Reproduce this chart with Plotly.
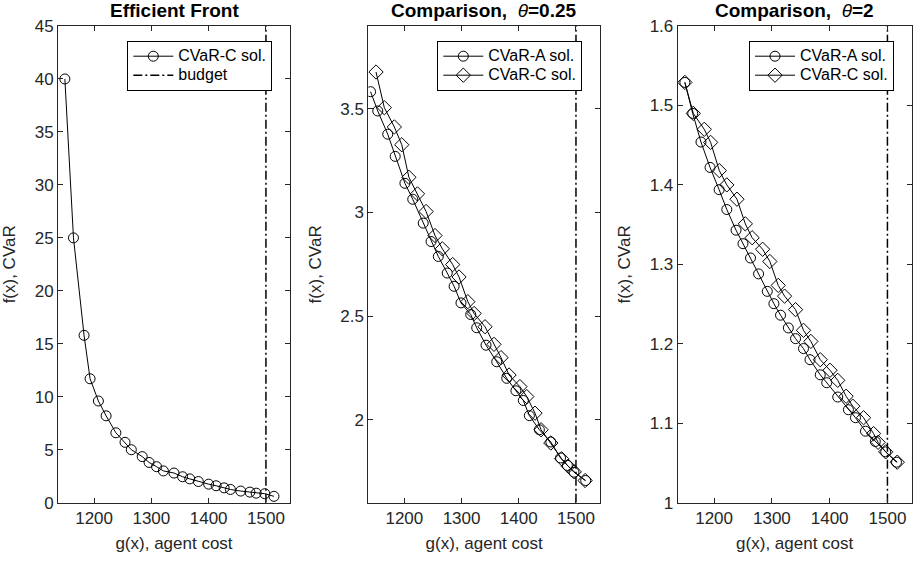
import plotly.graph_objects as go

# ---------------- data ----------------
budget = 1500
x_ticks = [1200, 1300, 1400, 1500]
x_range = [1137, 1542]

# Panel 1: efficient front (CVaR-C solutions)
ef_cost = [1149, 1164, 1182.5, 1193, 1207.5, 1221, 1238, 1254, 1265, 1284, 1296, 1309, 1321,
           1339.5, 1354.5, 1367, 1382, 1400, 1413, 1427, 1438, 1456, 1472, 1483, 1498, 1514]
ef_cvar = [40.0, 25.0, 15.8, 11.7, 9.6, 8.2, 6.6, 5.7, 5.0, 4.35, 3.8, 3.4, 3.0,
           2.8, 2.45, 2.25, 2.0, 1.75, 1.6, 1.4, 1.25, 1.1, 1.0, 0.9, 0.85, 0.6]
p1_yticks = [0, 5, 10, 15, 20, 25, 30, 35, 40, 45]
p1_yrange = [0, 45]

# Panel 2: comparison, theta = 0.25
cost_a_025 = [1141, 1153.5, 1171, 1184, 1201, 1214.7, 1233, 1246.7, 1259.4, 1275, 1287, 1299, 1316,
              1326.5, 1342.8, 1361.5, 1379, 1395, 1408, 1418.5, 1436, 1456, 1473, 1485, 1496.5, 1517]
cvar_a_025 = [3.583, 3.49, 3.378, 3.271, 3.141, 3.064, 2.949, 2.86, 2.788, 2.708, 2.644, 2.564, 2.508,
              2.444, 2.36, 2.28, 2.2, 2.14, 2.093, 2.02, 1.952, 1.893, 1.816, 1.78, 1.747, 1.707]
cost_c_025 = [1150.5, 1165, 1182.5, 1195.5, 1208, 1223, 1238, 1253.6, 1266.4, 1284.5, 1295.6, 1311, 1322,
              1341, 1356.7, 1369, 1383, 1402, 1414, 1428.4, 1439, 1456, 1475, 1486.5, 1497, 1516]
cvar_c_025 = [3.678, 3.506, 3.413, 3.327, 3.17, 3.09, 3.005, 2.889, 2.825, 2.749, 2.689, 2.57, 2.513,
              2.449, 2.364, 2.3, 2.216, 2.16, 2.112, 2.032, 1.952, 1.888, 1.812, 1.776, 1.749, 1.707]
p2_yticks = [2, 2.5, 3, 3.5]
p2_ytext = ["2", "2.5", "3", "3.5"]
p2_yrange = [1.6, 3.9]

# Panel 3: comparison, theta = 2
cost_a_2 = [1149.4, 1163, 1177.3, 1193, 1208.7, 1222, 1238, 1250, 1263, 1277, 1292, 1303.5, 1315,
            1328.5, 1341, 1354.7, 1366, 1383.7, 1395, 1414, 1432.5, 1444.7, 1462, 1479, 1497, 1515.7]
cvar_a_2 = [1.529, 1.49, 1.454, 1.422, 1.394, 1.369, 1.343, 1.326, 1.308, 1.288, 1.266, 1.2505, 1.236,
            1.22, 1.2065, 1.194, 1.18, 1.161, 1.151, 1.133, 1.117, 1.107, 1.09, 1.077, 1.064, 1.051]
cost_c_2 = [1149.4, 1164, 1183, 1194, 1209, 1222, 1239.6, 1254, 1265.8, 1284, 1296.5, 1311, 1322,
            1341, 1354.7, 1367.5, 1383.7, 1400.6, 1414, 1428.5, 1440, 1458.7, 1476, 1483.8, 1497, 1517]
cvar_c_2 = [1.529, 1.49, 1.470, 1.4535, 1.418, 1.40, 1.382, 1.351, 1.3335, 1.319, 1.3036, 1.2735, 1.26,
            1.243, 1.217, 1.203, 1.18, 1.1667, 1.154, 1.134, 1.1215, 1.107, 1.087, 1.076, 1.064, 1.051]
p3_yticks = [1, 1.1, 1.2, 1.3, 1.4, 1.5, 1.6]
p3_ytext = ["1", "1.1", "1.2", "1.3", "1.4", "1.5", "1.6"]
p3_yrange = [1, 1.6]

titles = ["<b>Efficient Front</b>",
          "<b>Comparison,  </b><i>θ</i><b>=0.25</b>",
          "<b>Comparison,  </b><i>θ</i><b>=2</b>"]

# ---------------- figure ----------------
W, H = 915, 561
FONT = "Liberation Sans, Arial, Helvetica, sans-serif"
AX = "#262626"
domains = [(58, 290), (368.3, 600), (677.7, 911.7)]
top_px, bot_px = 26, 502.7
ydom = [1 - bot_px / H, 1 - top_px / H]


def lg(name):
    # legend label rendered at 16px while the legend rows keep a compact height
    return '<span style="font-size:16px">' + name + '</span>'


fig = go.Figure()

line = dict(color="black", width=1)
circ = dict(symbol="circle-open", size=10, color="black", line=dict(width=1, color="black"))
diam = dict(symbol="diamond-open", size=11, color="black", line=dict(width=1, color="black"))
budget_line = dict(color="black", width=1.5, dash="9px,3px,2px,3px")

# panel 1
fig.add_trace(go.Scatter(x=ef_cost, y=ef_cvar, mode="lines+markers", name=lg("CVaR-C sol."),
                         line=line, marker=circ, xaxis="x", yaxis="y", legend="legend"))
fig.add_trace(go.Scatter(x=[budget, budget], y=p1_yrange, mode="lines", name=lg("budget"),
                         line=budget_line, xaxis="x", yaxis="y", legend="legend"))
# panel 2
fig.add_trace(go.Scatter(x=cost_a_025, y=cvar_a_025, mode="lines+markers", name=lg("CVaR-A sol."),
                         line=line, marker=circ, xaxis="x2", yaxis="y2", legend="legend2"))
fig.add_trace(go.Scatter(x=cost_c_025, y=cvar_c_025, mode="lines+markers", name=lg("CVaR-C sol."),
                         line=line, marker=diam, xaxis="x2", yaxis="y2", legend="legend2"))
fig.add_trace(go.Scatter(x=[budget, budget], y=p2_yrange, mode="lines", showlegend=False,
                         line=budget_line, xaxis="x2", yaxis="y2"))
# panel 3
fig.add_trace(go.Scatter(x=cost_a_2, y=cvar_a_2, mode="lines+markers", name=lg("CVaR-A sol."),
                         line=line, marker=circ, xaxis="x3", yaxis="y3", legend="legend3"))
fig.add_trace(go.Scatter(x=cost_c_2, y=cvar_c_2, mode="lines+markers", name=lg("CVaR-C sol."),
                         line=line, marker=diam, xaxis="x3", yaxis="y3", legend="legend3"))
fig.add_trace(go.Scatter(x=[budget, budget], y=p3_yrange, mode="lines", showlegend=False,
                         line=budget_line, xaxis="x3", yaxis="y3"))

TICK_FS = 17
common_axis = dict(showline=True, linecolor=AX, linewidth=1, mirror="ticks", ticks="inside",
                   ticklen=5, tickcolor=AX, tickwidth=1, showgrid=False, zeroline=False,
                   automargin=False,
                   tickfont=dict(family=FONT, size=TICK_FS, color=AX), fixedrange=True)

layout = dict(template="none", width=W, height=H, margin=dict(l=0, r=0, t=0, b=0, pad=0),
              paper_bgcolor="white", plot_bgcolor="white", hovermode=False,
              font=dict(family=FONT, color=AX, size=TICK_FS))

yinfo = [(p1_yrange, p1_yticks, [str(v) for v in p1_yticks]),
         (p2_yrange, p2_yticks, p2_ytext),
         (p3_yrange, p3_yticks, p3_ytext)]

annotations = []
for i, ((x0, x1), (yr, yt, ytt), ttl) in enumerate(zip(domains, yinfo, titles)):
    s = "" if i == 0 else str(i + 1)
    layout["xaxis" + s] = dict(common_axis, domain=[x0 / W, x1 / W], range=x_range,
                               tickvals=x_ticks, ticktext=[str(v) for v in x_ticks],
                               anchor="y" + s,
                               title=dict(text="g(x), agent cost", standoff=10,
                                          font=dict(family=FONT, size=TICK_FS, color=AX)))
    layout["yaxis" + s] = dict(common_axis, domain=ydom, range=yr, tickvals=yt, ticktext=ytt,
                               anchor="x" + s,
                               title=dict(text="f(x), CVaR", standoff=14,
                                          font=dict(family=FONT, size=TICK_FS, color=AX)))
    annotations.append(dict(text=ttl, xref="paper", yref="paper", x=(x0 + x1) / 2 / W,
                            y=ydom[1], xanchor="center", yanchor="bottom", yshift=3,
                            showarrow=False, font=dict(family=FONT, size=19, color="black")))
    leg = dict(x=(x1 - 17.7) / W, y=1 - 40.7 / H,
               xanchor="right", yanchor="top", bgcolor="white", bordercolor="black",
               borderwidth=1, font=dict(family=FONT, size=12, color="black"),
               tracegroupgap=0, itemwidth=40)
    layout["legend" if i == 0 else "legend" + str(i + 1)] = leg

layout["annotations"] = annotations
fig.update_layout(**layout)

fig.write_html("out.html", config={"displayModeBar": False},
               post_script="document.body.style.margin='0px';document.body.style.overflow='hidden';")
